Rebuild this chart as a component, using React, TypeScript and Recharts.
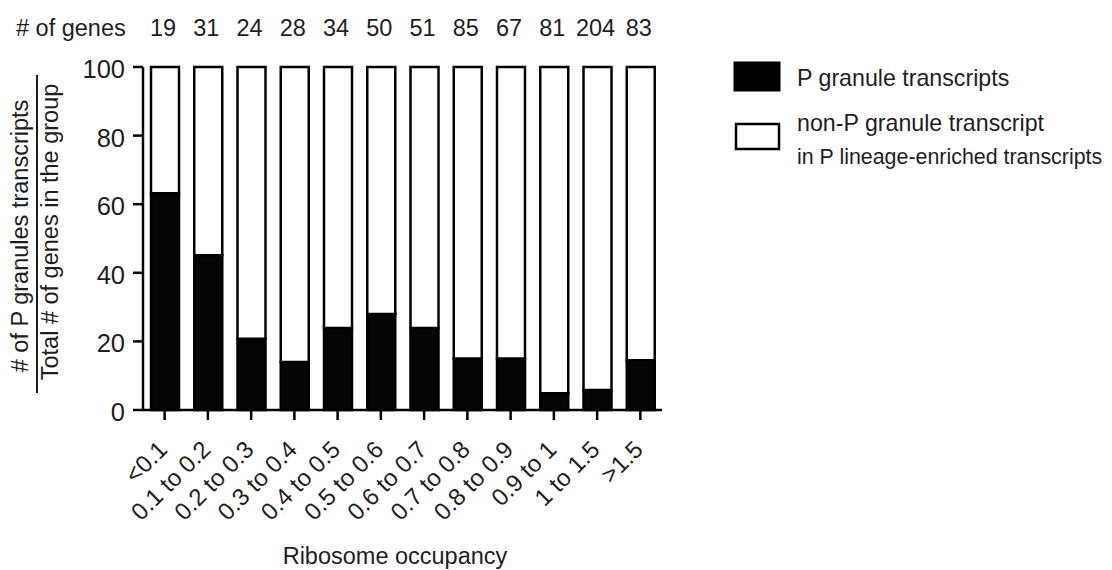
import React from 'react';
import { BarChart, Bar, XAxis, YAxis, LabelList, Customized } from 'recharts';

const categories = ['<0.1', '0.1 to 0.2', '0.2 to 0.3', '0.3 to 0.4', '0.4 to 0.5', '0.5 to 0.6', '0.6 to 0.7', '0.7 to 0.8', '0.8 to 0.9', '0.9 to 1', '1 to 1.5', '>1.5'];
const geneCounts = [19, 31, 24, 28, 34, 50, 51, 85, 67, 81, 204, 83];
const pGranule = [63.2, 45.1, 20.8, 14.0, 23.9, 28.0, 23.9, 15.0, 15.0, 4.9, 5.8, 14.5];
const nonPGranule = [36.8, 54.9, 79.2, 86.0, 76.1, 72.0, 76.1, 85.0, 85.0, 95.1, 94.2, 85.5];
const yTicks = [0, 20, 40, 60, 80, 100];

const data = categories.map((c, i) => ({
  cat: c,
  genes: geneCounts[i],
  p: pGranule[i],
  nonP: nonPGranule[i],
}));

const FONT = '"Liberation Sans", Arial, Helvetica, sans-serif';
const INK = '#1e1e1e';

const XTick = (props: any) => {
  const { x, payload } = props;
  const px = x + 4;
  const py = 451;
  return (
    <text
      x={px}
      y={py}
      transform={`rotate(-45, ${px}, ${py})`}
      textAnchor="end"
      fontSize={24}
      fontFamily={FONT}
      fill={INK}
    >
      {payload.value}
    </text>
  );
};

const YTick = (props: any) => {
  const { x, y, payload } = props;
  return (
    <text x={x} y={y + 11} textAnchor="end" fontSize={25.5} fontFamily={FONT} fill={INK}>
      {payload.value}
    </text>
  );
};

const CountLabel = (props: any) => {
  const { x, width, value } = props;
  return (
    <text x={x + width / 2 - 2} y={36} textAnchor="middle" fontSize={23.5} fontFamily={FONT} fill={INK}>
      {value}
    </text>
  );
};

const Extras = () => (
  <g fontFamily={FONT} fill={INK}>
    <text x={16} y={36} fontSize={23.5} fill={INK}># of genes</text>
    {/* y-axis fraction title */}
    <text x={28} y={236} transform="rotate(-90, 28, 236)" textAnchor="middle" fontSize={23.5} fill={INK}>
      # of P granules transcripts
    </text>
    <line x1={37} y1={75} x2={37} y2={393} stroke={INK} strokeWidth={2} />
    <text x={58} y={232} transform="rotate(-90, 58, 232)" textAnchor="middle" fontSize={23.5} fill={INK}>
      Total # of genes in the group
    </text>
    {/* legend */}
    <rect x={734} y={62} width={46} height={29} fill="#000" stroke="#000" strokeWidth={1} />
    <text x={797} y={86} fontSize={23.2} fill={INK}>P granule transcripts</text>
    <rect x={736} y={124} width={43} height={25} fill="#fff" stroke="#000" strokeWidth={2.5} />
    <text x={797} y={131} fontSize={23.2} fill={INK}>non-P granule transcript</text>
    <text x={797} y={164} fontSize={21.4} fill={INK}>
      in P lineage-enriched transcripts
    </text>
    {/* x title */}
    <text x={395} y={564} textAnchor="middle" fontSize={23.5} fill={INK}>Ribosome occupancy</text>
  </g>
);

export default function App() {
  return (
    <div style={{ position: 'absolute', left: 0, top: 0, width: 1112, height: 570, background: '#fff' }}>
      <BarChart
        width={1112}
        height={570}
        data={data}
        margin={{ top: 67, right: 450, bottom: 0, left: 0 }}
        barSize={28}
      >
        <XAxis
          dataKey="cat"
          height={160}
          interval={0}
          tickSize={10}
          axisLine={{ stroke: '#000', strokeWidth: 2.5 }}
          tickLine={{ stroke: '#000', strokeWidth: 2.5 }}
          tick={<XTick />}
        />
        <YAxis
          width={143}
          domain={[0, 100]}
          ticks={yTicks}
          tickSize={10}
          tickMargin={8}
          axisLine={{ stroke: '#000', strokeWidth: 2.5 }}
          tickLine={{ stroke: '#000', strokeWidth: 2.5 }}
          tick={<YTick />}
        />
        <Bar dataKey="p" stackId="a" fill="#050505" stroke="#000" strokeWidth={2.5} isAnimationActive={false} />
        <Bar dataKey="nonP" stackId="a" fill="#fff" stroke="#000" strokeWidth={2.5} isAnimationActive={false}>
          <LabelList dataKey="genes" content={<CountLabel />} />
        </Bar>
        <Customized component={Extras} />
      </BarChart>
    </div>
  );
}
